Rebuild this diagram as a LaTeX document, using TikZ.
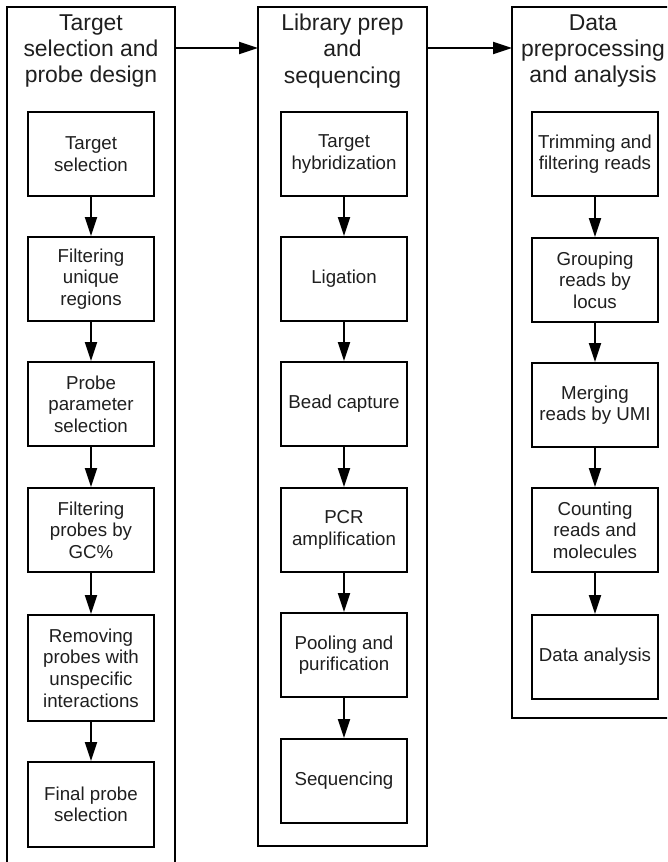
\documentclass[tikz,border=0pt]{standalone}
\usepackage{fontspec}
\setmainfont{Liberation Sans}
\usetikzlibrary{arrows.meta,calc}
\begin{document}
\begin{tikzpicture}[x=1pt,y=-1pt,
  box/.style={draw, line width=2pt, minimum width=126pt, align=center, inner sep=1pt, font=\fontsize{18.7}{21.6}\selectfont, text=black!88},
  outer/.style={draw, line width=2pt, inner sep=0pt, outer sep=0pt, anchor=north west},
  head/.style={align=center, inner sep=0pt, font=\fontsize{22.9}{26.3}\selectfont, text=black!88},
  arr/.style={line width=2pt, -{Triangle[length=19pt,width=12pt]}}
]
\clip (0,0) rectangle (667,862);
\fill[white] (0,0) rectangle (667,862);
% outer columns
\node[outer, minimum width=168pt, minimum height=900pt] (L) at (7,7) {};
\node[outer, minimum width=169pt, minimum height=839pt] (M) at (258,7) {};
\node[outer, minimum width=166pt, minimum height=711pt] (R) at (512,7) {};
% headers
\node[head] (Lh) at (91,51) {Target\\selection and\\probe design};
\node[head] (Mh) at (342.5,51) {Library prep\\and\\sequencing};
\node[head] (Rh) at (593,51) {Data\\preprocessing\\and analysis};
% column arrows
\coordinate (LM1) at ($(L.north east)+(0,41)$);
\coordinate (LM2) at ($(M.north west)+(0,41)$);
\coordinate (MR1) at ($(M.north east)+(0,41)$);
\coordinate (MR2) at ($(R.north west)+(0,41)$);
\draw[arr] (LM1) -- (LM2);
\draw[arr] (MR1) -- (MR2);
% left column
\node[box, minimum height=84pt] (l1) at (91,154) {Target\\selection};
\node[box, minimum height=84pt] (l2) at (91,279) {Filtering\\unique\\regions};
\node[box, minimum height=84pt] (l3) at (91,404) {Probe\\parameter\\selection};
\node[box, minimum height=84pt] (l4) at (91,530) {Filtering\\probes by\\GC\%};
\node[box, minimum height=106pt] (l5) at (91,668) {Removing\\probes with\\unspecific\\interactions};
\node[box, minimum height=85pt] (l6) at (91,804.5) {Final probe\\selection};
% middle column
\node[box, minimum height=84pt] (m1) at (344,154) {Target\\hybridization};
\node[box, minimum height=84pt] (m2) at (344,279) {Ligation};
\node[box, minimum height=84pt] (m3) at (344,404) {Bead capture};
\node[box, minimum height=84pt] (m4) at (344,530) {PCR\\amplification};
\node[box, minimum height=84pt] (m5) at (344,655) {Pooling and\\purification};
\node[box, minimum height=84pt] (m6) at (344,781) {Sequencing};
% right column
\node[box, minimum height=84pt] (r1) at (595,154) {Trimming and\\filtering reads};
\node[box, minimum height=84pt] (r2) at (595,280) {Grouping\\reads by\\locus};
\node[box, minimum height=84pt] (r3) at (595,405) {Merging\\reads by UMI};
\node[box, minimum height=84pt] (r4) at (595,530) {Counting\\reads and\\molecules};
\node[box, minimum height=84pt] (r5) at (595,657) {Data analysis};
% arrows
\foreach \c in {l,m} {
  \draw[arr] (\c1) -- (\c2);
  \draw[arr] (\c2) -- (\c3);
  \draw[arr] (\c3) -- (\c4);
  \draw[arr] (\c4) -- (\c5);
  \draw[arr] (\c5) -- (\c6);
}
\draw[arr] (r1) -- (r2);
\draw[arr] (r2) -- (r3);
\draw[arr] (r3) -- (r4);
\draw[arr] (r4) -- (r5);
\end{tikzpicture}
\end{document}
